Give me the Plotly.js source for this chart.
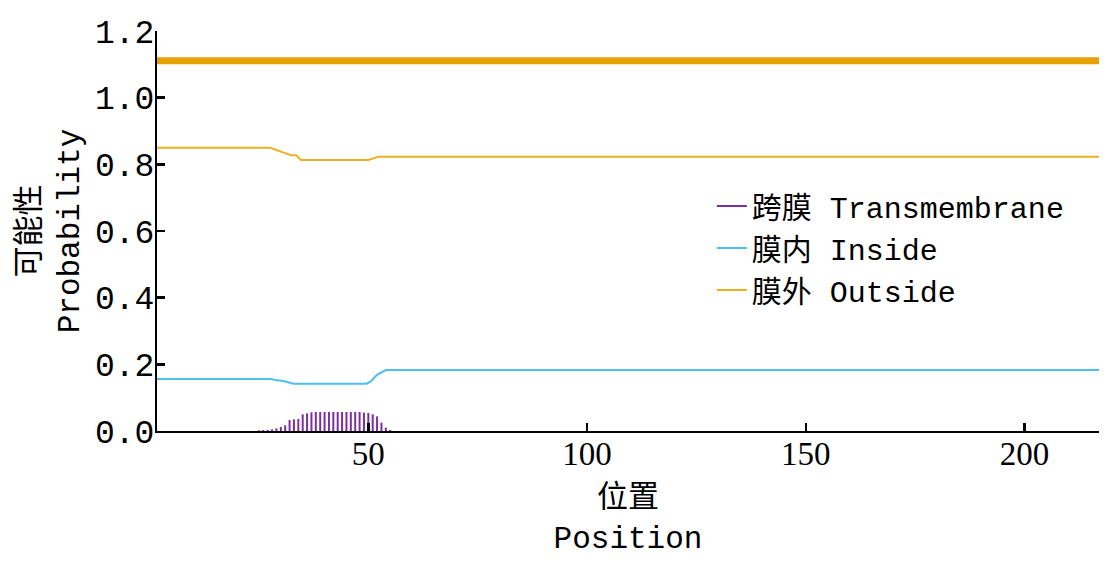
<!DOCTYPE html>
<html>
<head>
<meta charset="utf-8">
<script src="https://cdn.plot.ly/plotly-3.0.1.min.js"></script>
<style>
  html, body { margin: 0; padding: 0; background: #fff; }
  #plot { width: 1116px; height: 567px; }
</style>
</head>
<body>
<div id="plot"></div>
<script>
// residue positions
var tmPos = [25, 26, 27, 28, 29, 30, 31, 32, 33, 34, 35, 36, 37, 38, 39, 40, 41, 42, 43, 44, 45, 46, 47, 48, 49, 50, 51, 52, 53, 54, 55];
var tmVal = [0.002, 0.003, 0.003, 0.005, 0.008, 0.012, 0.017, 0.033, 0.035, 0.036, 0.050, 0.053, 0.056, 0.057, 0.057, 0.057, 0.057, 0.057, 0.057, 0.057, 0.057, 0.057, 0.057, 0.057, 0.055, 0.054, 0.050, 0.044, 0.025, 0.010, 0.003];

var inPos = [1, 27.8, 28.7, 30.6, 32.9, 49.6, 50.7, 51.9, 54.0, 217];
var inVal = [0.156, 0.156, 0.153, 0.150, 0.142, 0.142, 0.150, 0.168, 0.183, 0.183];

var outPos = [1, 27.5, 29.0, 30.9, 32.4, 33.5, 34.6, 50.0, 52.3, 217];
var outVal = [0.850, 0.850, 0.843, 0.835, 0.827, 0.827, 0.813, 0.813, 0.823, 0.823];

// topology bar on top
var topoPos = [1, 217];
var topoVal = [1.111, 1.111];

var xTicks = [50, 100, 150, 200, 217];
var xTickText = ['50', '100', '150', '200', ''];
var yTicks = [0, 0.2, 0.4, 0.6, 0.8, 1.0, 1.2];

var monoFont = '"Liberation Mono", "Noto Sans CJK SC", monospace';
var serifFont = '"Liberation Serif", serif';

// impulses for the transmembrane probability
var tmX = [], tmY = [];
for (var i = 0; i < tmPos.length; i++) {
  tmX.push(tmPos[i], tmPos[i], null);
  tmY.push(0, tmVal[i], null);
}

var traceTM = {
  x: tmX, y: tmY, mode: 'lines', type: 'scatter',
  name: '跨膜 Transmembrane',
  line: {color: '#7B2FA0', width: 2},
  connectgaps: false
};
var traceIn = {
  x: inPos, y: inVal, mode: 'lines', type: 'scatter',
  name: '膜内 Inside',
  line: {color: '#4DBEEE', width: 2}
};
var traceOut = {
  x: outPos, y: outVal, mode: 'lines', type: 'scatter',
  name: '膜外 Outside',
  line: {color: '#EDB120', width: 2}
};
var traceTopo = {
  x: topoPos, y: topoVal, mode: 'lines', type: 'scatter',
  showlegend: false, hoverinfo: 'skip',
  line: {color: '#E6A000', width: 7}
};

var layout = {
  width: 1116, height: 567,
  margin: {l: 157, r: 17, t: 31, b: 136},
  paper_bgcolor: '#fff', plot_bgcolor: '#fff',
  showlegend: true,
  legend: {
    x: 0.589, y: 0.6275, xanchor: 'left', yanchor: 'top',
    bgcolor: 'rgba(255,255,255,0)', borderwidth: 0,
    font: {family: monoFont, size: 30, color: '#000'},
    tracegroupgap: 0
  },
  xaxis: {
    range: [1.7, 217],
    tickvals: xTicks, ticktext: xTickText,
    ticks: 'inside', ticklen: 8, tickwidth: 2.5, tickcolor: '#000',
    ticklabelstandoff: -8,
    showline: true, linecolor: '#000', linewidth: 2,
    showgrid: false, zeroline: false,
    tickfont: {family: serifFont, size: 33, color: '#000'},
    title: {text: '位置<br>Position', font: {family: monoFont, size: 31, color: '#000'}, standoff: 15},
    automargin: false
  },
  yaxis: {
    range: [0, 1.2],
    tickvals: yTicks, tickformat: '.1f',
    ticks: 'inside', ticklen: 8, tickwidth: 2.5, tickcolor: '#000',
    ticklabelstandoff: -6,
    showline: true, linecolor: '#000', linewidth: 2,
    showgrid: false, zeroline: false,
    tickfont: {family: monoFont, size: 33, color: '#000'},
    title: {text: '可能性<br>Probability', font: {family: monoFont, size: 31, color: '#000'}, standoff: 6},
    automargin: false
  }
};

Plotly.newPlot('plot', [traceTopo, traceTM, traceIn, traceOut], layout, {staticPlot: true});
</script>
</body>
</html>
